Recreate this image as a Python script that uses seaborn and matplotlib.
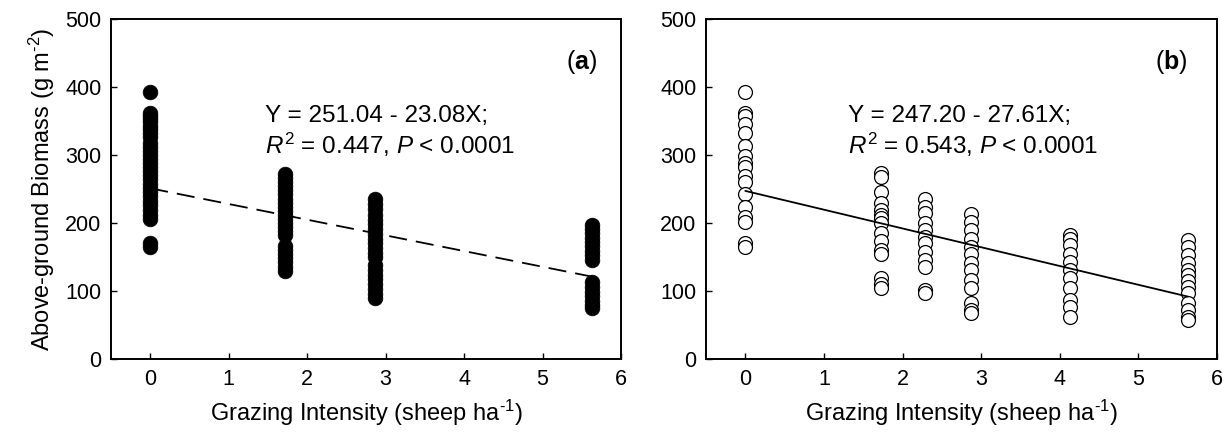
import numpy as np
import pandas as pd
import matplotlib
matplotlib.use("Agg")
import matplotlib.pyplot as plt
import seaborn as sns

# ---------------- data ----------------
# Panel (a): grazing intensity levels and biomass values
a_levels = [0.0, 1.72, 2.87, 5.63]
a_g0 = [392, 362, 358, 353, 348, 343, 338, 332, 326, 318, 312, 306, 300, 294, 288,
        282, 276, 270, 264, 258, 252, 246, 240, 233, 226, 219, 212, 206, 170, 165]
a_g1 = [272, 266, 260, 254, 248, 242, 236, 230, 224, 218, 212, 206, 200, 194, 188,
        182, 166, 160, 154, 148, 142, 136, 129]
a_g2 = [236, 228, 220, 212, 205, 198, 191, 184, 177, 170, 163, 156, 150, 138, 131,
        124, 117, 110, 103, 96, 90]
a_g3 = [197, 191, 185, 178, 172, 166, 159, 153, 146, 113, 106, 99, 92, 86, 80, 75]
a_fit = [251.04, -23.08]  # intercept, slope

# Panel (b)
b_levels = [0.0, 1.72, 2.29, 2.87, 4.13, 5.63]
b_g0 = [392, 362, 357, 346, 332, 313, 298, 288, 283, 269, 261, 242, 224, 209, 202, 170, 164]
b_g1 = [273, 268, 246, 229, 219, 212, 207, 200, 185, 173, 160, 155, 119, 111, 104]
b_g2 = [236, 224, 214, 200, 190, 180, 170, 158, 146, 136, 101, 97]
b_g3 = [213, 202, 190, 177, 165, 155, 141, 131, 116, 104, 82, 72, 67]
b_g4 = [182, 177, 168, 155, 143, 131, 119, 104, 87, 77, 62]
b_g5 = [175, 165, 153, 141, 131, 124, 114, 106, 97, 82, 72, 62, 57]
b_fit = [247.20, -27.61]

x_ticks = [0, 1, 2, 3, 4, 5, 6]
y_ticks = [0, 100, 200, 300, 400, 500]

a_eq = ["Y = 251.04 - 23.08X;", r"$\it{R}^{2}$ = 0.447, $\it{P}$ < 0.0001"]
b_eq = ["Y = 247.20 - 27.61X;", r"$\it{R}^{2}$ = 0.543, $\it{P}$ < 0.0001"]

xlabel = r"Grazing Intensity (sheep ha$^{\text{-}1}$)"
ylabel = r"Above-ground Biomass (g m$^{\text{-}2}$)"


def to_df(levels, groups):
    xs, ys = [], []
    for lv, g in zip(levels, groups):
        xs += [lv] * len(g)
        ys += list(g)
    return pd.DataFrame({"x": xs, "y": ys})


df_a = to_df(a_levels, [a_g0, a_g1, a_g2, a_g3])
df_b = to_df(b_levels, [b_g0, b_g1, b_g2, b_g3, b_g4, b_g5])

# ---------------- style ----------------
sns.set_theme(style="white")
plt.rcParams["font.family"] = ["Liberation Sans", "DejaVu Sans"]
plt.rcParams["mathtext.fontset"] = "custom"
plt.rcParams["mathtext.rm"] = "Liberation Sans"
plt.rcParams["mathtext.it"] = "Liberation Sans:italic"
plt.rcParams["mathtext.bf"] = "Liberation Sans:bold"
for k in ["text.color", "axes.labelcolor", "xtick.color", "ytick.color"]:
    plt.rcParams[k] = "black"

fig = plt.figure(figsize=(12.24, 4.34), dpi=100)
ax_a = fig.add_axes([111 / 1224, 75 / 434, 510 / 1224, 340 / 434])
ax_b = fig.add_axes([706 / 1224, 75 / 434, 511 / 1224, 340 / 434])

sns.scatterplot(data=df_a, x="x", y="y", ax=ax_a, s=112, color="black",
                edgecolor="black", linewidth=0.5, zorder=3, legend=False)
sns.scatterplot(data=df_b, x="x", y="y", ax=ax_b, s=100, facecolor="white",
                edgecolor="black", linewidth=0.9, zorder=3, legend=False)

# fitted lines from the reported coefficients
for ax, df, fit, dashed in [(ax_a, df_a, a_fit, True), (ax_b, df_b, b_fit, False)]:
    xr = np.array([df["x"].min(), df["x"].max()])
    ln = pd.DataFrame({"x": xr, "y": fit[0] + fit[1] * xr})
    sns.lineplot(data=ln, x="x", y="y", ax=ax, color="black", lw=1.3, zorder=4)
    if dashed:
        ax.lines[-1].set_dashes([10, 5])

for ax, eq, ex, lab, lx in [(ax_a, a_eq, 1.46, "a", 0.953), (ax_b, b_eq, 1.31, "b", 0.943)]:
    ax.set_xlim(-0.5, 6.0)
    ax.set_ylim(0, 500)
    ax.set_xticks(x_ticks)
    ax.set_yticks(y_ticks)
    ax.set_xticklabels([str(t) for t in x_ticks])
    ax.set_yticklabels([str(t) for t in y_ticks])
    ax.tick_params(direction="in", length=4, width=1, labelsize=15.5, pad=7,
                   colors="black", bottom=True, left=True)
    for sp in ax.spines.values():
        sp.set_visible(True)
        sp.set_color("black")
        sp.set_linewidth(1.4)
    ax.set_xlabel(xlabel, fontsize=17, labelpad=6)
    ax.set_ylabel("")
    ax.text(ex, 357, eq[0], fontsize=17.5, va="center", ha="left")
    ax.text(ex, 315, eq[1], fontsize=17.5, va="center", ha="left")
    ax.text(lx, 0.874, r"($\mathbf{" + lab + r"}$)", transform=ax.transAxes,
            fontsize=18, va="center", ha="right")

ax_a.set_ylabel(ylabel, fontsize=17, labelpad=6)

fig.savefig("out.png", dpi=100)
